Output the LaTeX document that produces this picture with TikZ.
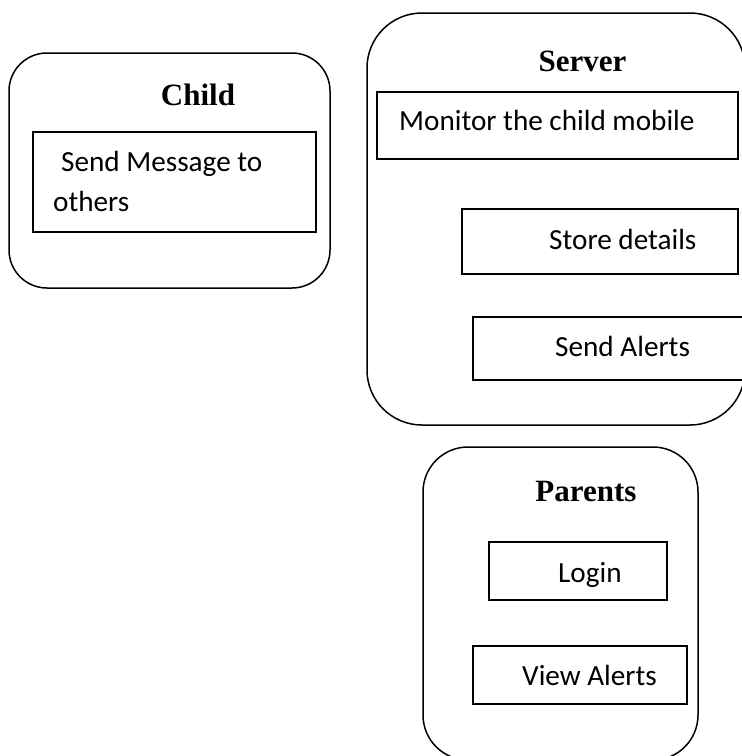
\documentclass[tikz,border=0pt]{standalone}
\usepackage{fontspec}
\setmainfont{Liberation Serif}
\newfontfamily\bodyfont{Carlito}
\tikzset{
  group/.style={draw, line width=1.5pt, rounded corners=#1, inner sep=0pt, outer sep=0pt, anchor=north west},
  taskbox/.style={draw, line width=1.5pt, inner sep=0pt, outer sep=0pt, anchor=north west},
  title/.style={inner sep=0pt, anchor=base, font=\fontsize{31}{37}\selectfont\bfseries},
  label/.style={inner sep=0pt, anchor=base west, font=\bodyfont\fontsize{29.2}{35}\selectfont},
}
\begin{document}
\begin{tikzpicture}[x=1pt, y=-1pt]
\useasboundingbox (0,0) rectangle (742,756);
% Child
\node[group=38pt, minimum width=321pt, minimum height=235pt] (child) at (9,53) {};
\node[title] (childt) at (198,105) {Child};
\node[taskbox, minimum width=283pt, minimum height=100pt] (sendmsg) at (33,132) {};
\node[label] (sendmsg1) at (61,171) {Send Message to};
\node[label] (sendmsg2) at (53,211) {others};
% Server
\node[group=55pt, minimum width=378pt, minimum height=412pt] (server) at (367,13) {};
\node[title] (servert) at (582.5,71) {Server};
\node[taskbox, minimum width=361pt, minimum height=67pt] (monitor) at (377,92) {};
\node[label] (monitort) at (399,130) {Monitor the child mobile};
\node[taskbox, minimum width=276pt, minimum height=65pt] (store) at (462,209) {};
\node[label] (storet) at (549,249) {Store details};
\node[taskbox, minimum width=280pt, minimum height=63pt] (alerts) at (473,317) {};
\node[label] (alertst) at (555,356) {Send Alerts};
% Parents
\node[group=45pt, minimum width=275pt, minimum height=313pt] (parents) at (423,447) {};
\node[title] (parentst) at (586,501) {Parents};
\node[taskbox, minimum width=178pt, minimum height=58pt] (login) at (489,542) {};
\node[label] (logint) at (558,582) {Login};
\node[taskbox, minimum width=214pt, minimum height=58pt] (view) at (473,646) {};
\node[label] (viewt) at (522,685) {View Alerts};
\end{tikzpicture}
\end{document}
